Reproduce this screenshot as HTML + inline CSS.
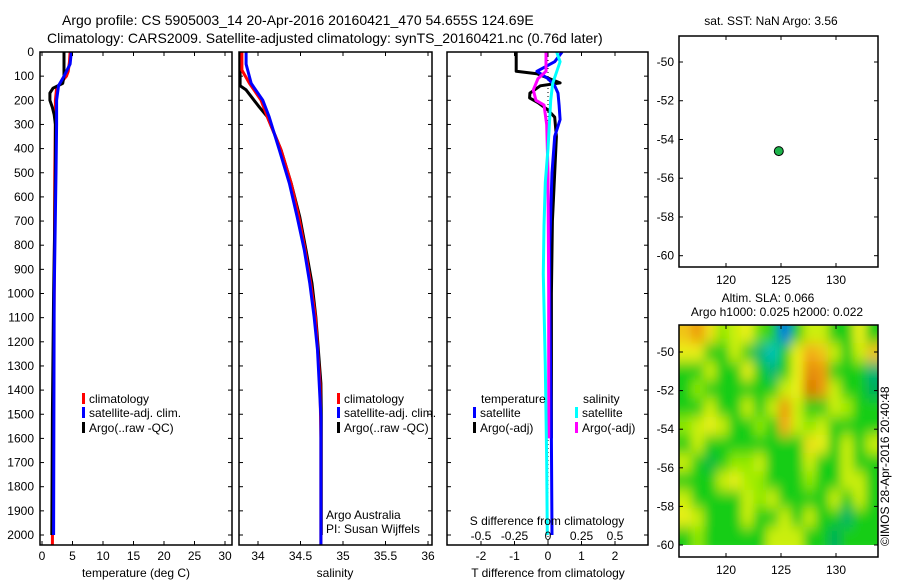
<!DOCTYPE html>
<html><head><meta charset="utf-8"><style>
html,body{margin:0;padding:0;background:#fff;}
svg{display:block;font-family:"Liberation Sans",sans-serif;}
</style></head><body>
<svg id="chart" width="900" height="580" viewBox="0 0 900 580" xmlns="http://www.w3.org/2000/svg">
<text x="62" y="25" font-size="14">Argo profile: CS 5905003_14 20-Apr-2016 20160421_470 54.655S 124.69E</text>
<text x="47" y="43" font-size="14">Climatology: CARS2009. Satellite-adjusted climatology: synTS_20160421.nc (0.76d later)</text>
<text x="771" y="25" font-size="12" text-anchor="middle">sat. SST: NaN Argo: 3.56</text>
<text x="768" y="302" font-size="12" text-anchor="middle">Altim. SLA: 0.066</text>
<text x="777" y="316" font-size="12" text-anchor="middle">Argo h1000: 0.025 h2000: 0.022</text>
<text transform="translate(889,546) rotate(-90)" font-size="12">©IMOS 28-Apr-2016 20:40:48</text>
<g id="layer"></g>
</svg>
<script>
// ---------- data ----------
const depthTicks=[0,100,200,300,400,500,600,700,800,900,1000,1100,1200,1300,1400,1500,1600,1700,1800,1900,2000];
const tempTicks=[0,5,10,15,20,25,30];
const salTicks=[34,34.5,35,35.5,36];
const salTickLabels=["34","34.5","35","35.5","36"];
const dTTicks=[-2,-1,0,1,2];
const dSTicks=[-0.5,-0.25,0,0.25,0.5];
const dSTickLabels=["-0.5","-0.25","0","0.25","0.5"];

const tClimDepth=[0,40,80,100,130,150,200,300,500,1000,1500,2040];
const tClim=[4.6,4.5,4.3,4.0,3.0,2.4,2.2,2.2,2.1,2.0,1.8,1.7];
const tSatDepth=[0,50,100,140,200,300,500,1000,1500,2000];
const tSat=[4.8,4.6,3.6,2.7,2.4,2.4,2.3,2.0,1.95,1.9];
const tArgoDepth=[0,100,130,150,170,200,230,260,300,500,700,1000,1500,2000];
const tArgo=[3.6,3.6,3.4,1.8,1.3,1.3,1.7,2.0,2.2,2.2,2.1,1.9,1.7,1.6];

const sClimDepth=[0,75,130,199,268,405,544,682,820,958,1096,1372,1600,2040];
const sClim=[33.81,33.81,33.9,34.035,34.11,34.27,34.39,34.48,34.555,34.62,34.675,34.73,34.74,34.74];
const sSatDepth=[0,50,130,199,268,405,544,682,820,958,1096,1234,1372,1510,2040];
const sSat=[33.86,33.86,33.92,34.055,34.13,34.25,34.37,34.46,34.545,34.61,34.66,34.70,34.72,34.74,34.74];
const sArgoDepth=[0,140,157,228,268,336,405,544,682,820,958,1096,1372,1510,2000];
const sArgo=[33.79,33.79,33.86,34.015,34.11,34.19,34.27,34.39,34.49,34.565,34.635,34.68,34.74,34.745,34.745];

const dTArgoDepth=[0,80,90,128,140,170,190,210,240,270,350,500,700,1000,1600];
const dTArgo=[-0.95,-0.95,-0.33,0.36,-0.23,-0.54,-0.55,-0.3,0,0.2,0.25,0.2,0.13,0.1,0.1];
const dTSatDepth=[0,40,70,80,110,140,170,220,280,350,500,800,1000,1600,2000];
const dTSat=[0.42,0.2,-0.2,-0.33,0,0.2,0.3,0.33,0.36,0.2,0.12,0.05,0.05,0.1,0.12];
const dSSatDepth=[0,40,90,130,200,400,540,720,920,1300,1700,2000];
const dSSat=[0.065,0.09,0.06,0.035,0.02,0,-0.02,-0.03,-0.035,-0.02,-0.01,-0.005];
const dSArgoDepth=[0,80,110,157,200,220,300,500,1000,1600];
const dSArgo=[-0.015,-0.015,-0.075,-0.11,-0.09,-0.03,-0.01,0,0.005,0.005];

const floatLon=[124.8];
const floatLat=[-54.6];
const lonTicks=[120,125,130];
const latTicks=[-50,-52,-54,-56,-58,-60];
const slaGrid=[
[0.15,0.2,0.12,0.05,0.08,0.1,0.03,0.0,-0.2,0.0,0.08,0.08,0.0,0.0,0.1,0.0],
[0.1,0.1,0.0,0.0,0.08,0.0,-0.05,-0.1,0.0,0.1,0.18,0.15,0.08,0.0,0.08,0.15],
[0.0,0.0,0.08,0.0,0.0,0.1,0.0,-0.05,0.0,0.1,0.22,0.2,0.0,0.0,0.0,-0.05],
[0.0,0.05,0.0,0.0,0.0,0.0,0.0,0.0,0.08,0.1,0.25,0.2,0.08,0.0,0.0,-0.03],
[0.0,0.0,0.08,0.0,0.0,0.08,0.0,0.08,0.2,0.08,0.0,0.0,0.08,0.06,0.0,0.0],
[0.05,0.08,0.1,0.08,0.0,0.0,0.05,0.0,0.18,0.08,0.05,0.08,0.0,0.0,0.0,0.0],
[0.0,0.08,0.0,0.0,0.0,0.0,0.0,0.0,0.0,0.0,0.12,0.1,0.0,0.08,0.0,0.08],
[0.08,0.0,-0.02,0.0,0.05,0.05,0.08,0.0,0.0,0.0,0.08,0.0,0.0,0.08,0.0,0.0],
[0.0,0.0,0.0,0.08,0.1,0.06,0.05,0.0,0.0,0.0,0.05,0.0,0.0,0.08,0.08,0.0],
[0.08,0.0,0.0,0.0,0.0,0.08,0.05,0.08,0.0,0.0,0.0,0.0,0.08,0.0,0.08,0.0],
[0.1,0.08,0.0,0.0,0.0,0.08,0.0,0.0,0.08,0.0,0.08,0.0,0.0,-0.04,0.0,0.0],
[0.0,0.05,0.0,0.0,0.0,0.0,0.0,0.08,0.08,0.08,0.0,0.0,-0.03,0.0,0.0,0.0]];

// ---------- helpers ----------
const NS="http://www.w3.org/2000/svg";
const layer=document.getElementById('layer');
function mk(tag,attrs,parent){const e=document.createElementNS(NS,tag);for(const k in attrs)e.setAttribute(k,attrs[k]);(parent||layer).appendChild(e);return e;}
const yD=d=>52+d*0.2415;
const xT=t=>42+t*6.1;
const xS=s=>258+(s-34)*85;
const xDT=v=>548+v*33.5;
const xDS=v=>548+v*134;

function frame(x0,x1,y0,y1,name){
  const r=mk('rect',{x:x0,y:y0,width:x1-x0,height:y1-y0,fill:'none',stroke:'#000','stroke-width':1.5});
  
  
}
function depthTicksOn(x0,x1,labels){
  depthTicks.forEach(d=>{
    const y=yD(d);
    mk('line',{x1:x0,y1:y,x2:x0+4,y2:y,stroke:'#000'});
    mk('line',{x1:x1,y1:y,x2:x1-4,y2:y,stroke:'#000'});
    if(labels){const t=mk('text',{x:x0-6,y:y+4,'font-size':12,'text-anchor':'end'});t.textContent=d;
      
      }
  });
}
function xTicks(vals,labs,fx,y0,y1,ly,name){
  vals.forEach((v,i)=>{
    const x=fx(v);
    mk('line',{x1:x,y1:y1,x2:x,y2:y1-4,stroke:'#000'});
    mk('line',{x1:x,y1:y0,x2:x,y2:y0+4,stroke:'#000'});
    const t=mk('text',{x:x,y:ly,'font-size':12,'text-anchor':'middle'});t.textContent=labs?labs[i]:v;
    
    
  });
}
function line(depths,vals,fx,color,name,w){
  const pts=depths.map((d,i)=>fx(vals[i]).toFixed(1)+','+yD(d).toFixed(1)).join(' ');
  const p=mk('polyline',{points:pts,fill:'none',stroke:color,'stroke-width':w||3,'stroke-linejoin':'round'});
  
  
}
function label(x,y,txt,name,size,anchor){
  const t=mk('text',{x:x,y:y,'font-size':size||12,'text-anchor':anchor||'start'});t.textContent=txt;
  
  
}
function legendItem(x,y,color,txt,name){
  const r=mk('rect',{x:x,y:y-10,width:3,height:11,fill:color});
  
  
  label(x+7,y,txt,name);
}

// ---------- panel 1: temperature ----------
const Y0=52,Y1=545;
line(tClimDepth,tClim,xT,'#f00','temp-climatology-line');
line(tArgoDepth,tArgo,xT,'#000','temp-argo-line');
line(tSatDepth,tSat,xT,'#00f','temp-satellite-line');
frame(40,232,Y0,Y1,'temperature-panel');
depthTicksOn(40,232,true);
xTicks(tempTicks,null,xT,Y0,Y1,560,'temp-tick-label');
label(136,577,'temperature (deg C)','temp-x-axis-title',12,'middle');
legendItem(82,403,'#f00','climatology','temp-legend-climatology');
legendItem(82,417,'#00f','satellite-adj. clim.','temp-legend-satellite');
legendItem(82,432,'#000','Argo(..raw -QC)','temp-legend-argo');

// ---------- panel 2: salinity ----------
line(sArgoDepth,sArgo,xS,'#000','sal-argo-line');
line(sClimDepth,sClim,xS,'#f00','sal-climatology-line');
line(sSatDepth,sSat,xS,'#00f','sal-satellite-line');
frame(239,432,Y0,Y1,'salinity-panel');
depthTicksOn(239,432,false);
xTicks(salTicks,salTickLabels,xS,Y0,Y1,560,'sal-tick-label');
label(335,577,'salinity','sal-x-axis-title',12,'middle');
legendItem(337,403,'#f00','climatology','sal-legend-climatology');
legendItem(337,417,'#00f','satellite-adj. clim.','sal-legend-satellite');
legendItem(337,432,'#000','Argo(..raw -QC)','sal-legend-argo');
label(326,519,'Argo Australia','argo-australia-label');
label(326,533,'PI: Susan Wijffels','pi-label');

// ---------- panel 3: differences ----------
mk('line',{x1:548,y1:Y0,x2:548,y2:Y1,stroke:'#000','stroke-dasharray':'1,3'});
line(dTArgoDepth,dTArgo,xDT,'#000','dT-argo-line');
line(dTSatDepth,dTSat,xDT,'#00f','dT-satellite-line');
line(dSArgoDepth,dSArgo,xDS,'#f0f','dS-argo-line');
line(dSSatDepth,dSSat,xDS,'#0ff','dS-satellite-line');
frame(447,648,Y0,Y1,'difference-panel');
depthTicksOn(447,648,false);
xTicks(dTTicks,null,xDT,Y0,Y1,560,'dT-tick-label');
dSTicks.forEach((v,i)=>label(xDS(v),540,dSTickLabels[i],'dS-tick-label',12,'middle'));
label(547,525,'S difference from climatology','dS-axis-title',12,'middle');
label(548,577,'T difference from climatology','dT-x-axis-title',12,'middle');
label(481,403,'temperature','diff-legend-temp-header');
legendItem(473,417,'#00f','satellite','diff-legend-temp-satellite');
legendItem(473,432,'#000','Argo(-adj)','diff-legend-temp-argo');
label(583,403,'salinity','diff-legend-sal-header');
legendItem(575,417,'#0ff','satellite','diff-legend-sal-satellite');
legendItem(575,432,'#f0f','Argo(-adj)','diff-legend-sal-argo');

// ---------- map 1: float position ----------
const mx0=679,mx1=878;
const xLon=l=>726+(l-120)*11;
const yLat1=l=>62+(-50-l)*19.37;
const yLat2=l=>352+(-50-l)*19.3;
frame(mx0,mx1,36,267,'position-map');
function mapTicks(y0,y1,fy,ly){
  latTicks.forEach(l=>{const y=fy(l);
    mk('line',{x1:mx0,y1:y,x2:mx0+4,y2:y,stroke:'#000'});
    mk('line',{x1:mx1,y1:y,x2:mx1-4,y2:y,stroke:'#000'});
    label(mx0-5,y+4,String(l),'lat-tick-label',12,'end');});
  lonTicks.forEach(l=>{const x=xLon(l);
    mk('line',{x1:x,y1:y0,x2:x,y2:y0+4,stroke:'#000'});
    mk('line',{x1:x,y1:y1,x2:x,y2:y1-4,stroke:'#000'});
    label(x,ly,String(l),'lon-tick-label',12,'middle');});
}
mapTicks(36,267,yLat1,284);
floatLon.forEach((l,i)=>{
  const c=mk('circle',{cx:xLon(l),cy:yLat1(floatLat[i]),r:4.5,fill:'#1db34a',stroke:'#000','stroke-width':1});
  
  
});

// ---------- map 2: SLA heatmap ----------
const stops=[[-0.25,[0,60,230]],[-0.12,[0,200,220]],[-0.03,[0,175,90]],[0,[20,205,20]],[0.06,[170,238,0]],[0.1,[235,240,20]],[0.18,[245,170,20]],[0.25,[215,115,0]]];
function cmap(v){
  if(v<=stops[0][0])return stops[0][1];
  for(let i=1;i<stops.length;i++){if(v<=stops[i][0]){const a=stops[i-1],b=stops[i],f=(v-a[0])/(b[0]-a[0]);return a[1].map((c,k)=>Math.round(c+(b[1][k]-c)*f));}}
  return stops[stops.length-1][1];
}
const hy0=325,hy1=545,rows=slaGrid.length,cols=slaGrid[0].length;
const cw=(mx1-mx0)/cols,ch=(hy1-hy0)/rows;
const defs=mk('defs',{});
const clip=mk('clipPath',{id:'hmclip'},defs);mk('rect',{x:mx0,y:hy0,width:mx1-mx0,height:hy1-hy0},clip);
const flt=mk('filter',{id:'blur',x:'-10%',y:'-10%',width:'120%',height:'120%'},defs);mk('feGaussianBlur',{stdDeviation:'5 7'},flt);
const hmClip=mk('g',{'clip-path':'url(#hmclip)'});


const hm=mk('g',{filter:'url(#blur)'},hmClip);
slaGrid.forEach((row,r)=>row.forEach((v,c)=>{
  const col=cmap(v);
  const x=mx0+c*cw-(c===0?12:0), w=cw+(c===0||c===cols-1?12:0)+0.5;
  const y=hy0+r*ch-(r===0?12:0), h=ch+(r===0||r===rows-1?12:0)+0.5;
  const e=mk('rect',{x:x,y:y,width:w,height:h,fill:`rgb(${col.join(',')})`},hm);
  
  
}));
frame(mx0,mx1,325,557,'sla-map');
mapTicks(325,557,yLat2,574);
</script>
</body></html>
